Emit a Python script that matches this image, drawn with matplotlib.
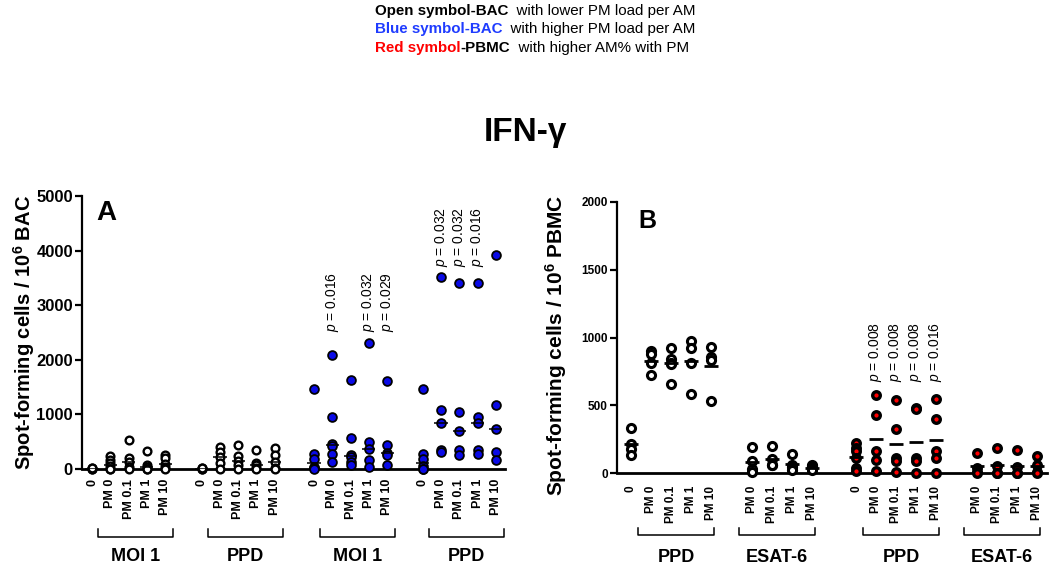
import matplotlib
matplotlib.use("Agg")
import matplotlib.pyplot as plt
import numpy as np

plt.rcParams['font.family'] = ['Liberation Sans', 'DejaVu Sans']
plt.rcParams['mathtext.fontset'] = 'custom'
plt.rcParams['mathtext.rm'] = 'Liberation Sans'
plt.rcParams['mathtext.it'] = 'Liberation Sans:italic'
plt.rcParams['mathtext.bf'] = 'Liberation Sans:bold'

# ---------------- data ----------------
pm_labels = ["0", "PM 0", "PM 0.1", "PM 1", "PM 10"]
esat_labels = ["PM 0", "PM 0.1", "PM 1", "PM 10"]

# Panel A: spot-forming cells / 10^6 BAC (line = median)
a_group_names = ["MOI 1", "PPD", "MOI 1", "PPD"]
a_moi_open = [[0, 0, 10, 20], [230, 170, 110, 50, 0, 0], [525, 200, 120, 40, 0],
              [325, 75, 40, 0, 0], [260, 200, 95, 40, 0]]
a_ppd_open = [[0, 0, 10, 20], [400, 320, 215, 110, 0], [445, 232, 155, 80, 0],
              [355, 110, 67, 20, 0], [385, 260, 120, 20, 0]]
a_moi_blue = [[1460, 280, 190, 45, 20, 0], [2090, 955, 465, 430, 280, 130],
              [1630, 575, 250, 215, 130, 80], [2300, 495, 360, 160, 40],
              [1610, 435, 300, 250, 65]]
a_ppd_blue = [[1460, 280, 180, 50, 0, 0], [3520, 1085, 842, 340, 310],
              [3410, 1045, 690, 340, 250], [3410, 950, 845, 355, 270],
              [3920, 1165, 738, 310, 160]]
a_p_moi_idx = [1, 3, 4]
a_p_moi_txt = ["0.016", "0.032", "0.029"]
a_p_ppd_idx = [1, 2, 3]
a_p_ppd_txt = ["0.032", "0.032", "0.016"]

# Panel B: spot-forming cells / 10^6 PBMC (line = mean)
b_group_names = ["PPD", "ESAT-6", "PPD", "ESAT-6"]
b_ppd_open = [[335, 217, 180, 130], [900, 876, 812, 721], [926, 845, 812, 803, 660],
              [975, 926, 812, 581], [931, 857, 832, 532]]
b_esat_open = [[192, 89, 30, 7], [202, 106, 60, 57], [143, 62, 45, 20], [57, 50, 35, 20]]
b_ppd_red = [[222, 185, 160, 111, 37, 12], [574, 426, 160, 98, 12],
             [542, 327, 110, 90, 5], [480, 475, 111, 86, 0], [549, 401, 160, 111, 0]]
b_esat_red = [[148, 37, 10, 0], [185, 49, 0, 0], [172, 44, 0, 0], [128, 62, 5, 0]]
b_p_idx = [1, 2, 3, 4]
b_p_txt = ["0.008", "0.008", "0.008", "0.016"]

# ---------------- styles ----------------
OPEN_A = dict(s=31, facecolors='white', edgecolors='black', linewidths=1.7)
OPEN_B = dict(s=34, facecolors='white', edgecolors='black', linewidths=2.2)
BLUE = dict(s=40, facecolors='#0a0ae6', edgecolors='black', linewidths=1.3)
RED = dict(s=30, facecolors='#ff0000', edgecolors='black', linewidths=2.4)

W, H = 1050, 571
fig = plt.figure(figsize=(W / 100, H / 100), dpi=100)


def px_rect(l, t, r, b):
    return [l / W, 1 - b / H, (r - l) / W, (b - t) / H]


def draw_group(ax, start, slots, values, style, stat, half, lw):
    for s, vals in zip(slots, values):
        x = start + s
        ax.scatter([x] * len(vals), vals, clip_on=False, zorder=3, **style)
        c = np.median(vals) if stat == 'median' else np.mean(vals)
        ax.hlines(c, x - half, x + half, colors='black', lw=lw, zorder=4)


def style_axes(ax, ymax, ystep, yfs):
    for sp in ['top', 'right']:
        ax.spines[sp].set_visible(False)
    ax.spines['left'].set_linewidth(1.6)
    ax.spines['bottom'].set_linewidth(2.0)
    ax.set_ylim(0, ymax)
    ax.set_yticks(np.arange(0, ymax + 1, ystep))
    ax.tick_params(axis='y', length=5, width=1.6, labelsize=yfs, pad=1.5)
    for t in ax.get_yticklabels():
        t.set_fontweight('bold')


def brackets(ax, starts, names, lo, hi, yb, ye, yl, fs):
    tr = ax.get_xaxis_transform()
    for st, nm in zip(starts, names):
        x0, x1 = st + lo, st + hi
        ax.plot([x0, x0, x1, x1], [ye, yb, yb, ye], color='black', lw=1.1,
                transform=tr, clip_on=False)
        ax.text((x0 + x1) / 2, yl, nm, transform=tr, ha='center', va='center',
                fontsize=fs, fontweight='bold')


# ---------------- panel A ----------------
axA = fig.add_axes(px_rect(82, 196, 505, 469))
a_starts = [0, 6, 12.15, 18.1]
style_axes(axA, 5000, 1000, 12)
axA.set_xlim(-0.55, 22.6)
draw_group(axA, a_starts[0], range(5), a_moi_open, OPEN_A, 'median', 0.36, 1.1)
draw_group(axA, a_starts[1], range(5), a_ppd_open, OPEN_A, 'median', 0.36, 1.1)
draw_group(axA, a_starts[2], range(5), a_moi_blue, BLUE, 'median', 0.36, 1.1)
draw_group(axA, a_starts[3], range(5), a_ppd_blue, BLUE, 'median', 0.36, 1.1)
xt = [st + i for st in a_starts for i in range(5)]
axA.set_xticks(xt)
axA.set_xticklabels(pm_labels * 4, rotation=90, fontsize=9, fontweight='bold')
axA.tick_params(axis='x', length=0, pad=7)
for i, txt in zip(a_p_moi_idx, a_p_moi_txt):
    axA.text(a_starts[2] + i, 2515, f"$p$ = {txt}", rotation=90, ha='center',
             va='bottom', fontsize=10)
for i, txt in zip(a_p_ppd_idx, a_p_ppd_txt):
    axA.text(a_starts[3] + i, 3705, f"$p$ = {txt}", rotation=90, ha='center',
             va='bottom', fontsize=10)
axA.text(0.035, 0.985, "A", transform=axA.transAxes, fontsize=20,
         fontweight='bold', va='top', ha='left')
brackets(axA, a_starts, a_group_names, 0.35, 4.45, -0.249, -0.22, -0.32, 13)

# ---------------- panel B ----------------
axB = fig.add_axes(px_rect(617, 202, 1047, 473))
b_starts = [0, 5.05, 11.25, 16.3]
style_axes(axB, 2000, 500, 8.5)
axB.set_xlim(-0.7, 20.8)
draw_group(axB, b_starts[0], range(5), b_ppd_open, OPEN_B, 'mean', 0.33, 2.0)
draw_group(axB, b_starts[1], range(1, 5), b_esat_open, OPEN_B, 'mean', 0.33, 2.0)
draw_group(axB, b_starts[2], range(5), b_ppd_red, RED, 'mean', 0.33, 2.0)
draw_group(axB, b_starts[3], range(1, 5), b_esat_red, RED, 'mean', 0.33, 2.0)
xtB = ([b_starts[0] + i for i in range(5)] + [b_starts[1] + i for i in range(1, 5)] +
       [b_starts[2] + i for i in range(5)] + [b_starts[3] + i for i in range(1, 5)])
axB.set_xticks(xtB)
axB.set_xticklabels(pm_labels + esat_labels + pm_labels + esat_labels,
                    rotation=90, fontsize=8.5, fontweight='bold')
axB.tick_params(axis='x', length=0, pad=9)
for i, txt in zip(b_p_idx, b_p_txt):
    axB.text(b_starts[2] + i, 672, f"$p$ = {txt}", rotation=90, ha='center',
             va='bottom', fontsize=10)
axB.text(0.05, 0.975, "B", transform=axB.transAxes, fontsize=18,
         fontweight='bold', va='top', ha='left')
brackets(axB, b_starts, b_group_names, 0.35, 4.15, -0.229, -0.203, -0.31, 13)

# ---------------- labels / titles ----------------
fig.text(24 / W, 1 - 332 / H, r"Spot-forming cells / 10$^{\mathbf{6}}$ BAC",
         rotation=90, ha='center', va='center', fontsize=14.5, fontweight='bold')
fig.text(556 / W, 1 - 345 / H, r"Spot-forming cells / 10$^{\mathbf{6}}$ PBMC",
         rotation=90, ha='center', va='center', fontsize=15, fontweight='bold')
fig.text(0.5, 1 - 132 / H, "IFN-γ", ha='center', va='center', fontsize=24,
         fontweight='bold')

legend_lines = [
    [("Open symbol-BAC", 'black', 'bold'), ("  with lower PM load per AM", 'black', 'normal')],
    [("Blue symbol-BAC", '#1f3cff', 'bold'), ("  with higher PM load per AM", 'black', 'normal')],
    [("Red symbol", '#ff0000', 'bold'), ("-PBMC", 'black', 'bold'),
     ("  with higher AM% with PM", 'black', 'normal')],
]
legend_y = [11, 29, 48]
for parts, yy in zip(legend_lines, legend_y):
    s, c, w = parts[0]
    t = fig.text(375 / W, 1 - yy / H, s, color=c, fontweight=w, fontsize=10.9,
                 ha='left', va='center')
    for s, c, w in parts[1:]:
        t = axA.annotate(s, xy=(1, 0.5), xycoords=t, color=c, fontweight=w,
                         fontsize=10.9, ha='left', va='center', annotation_clip=False)

fig.savefig("out.png", dpi=100)
